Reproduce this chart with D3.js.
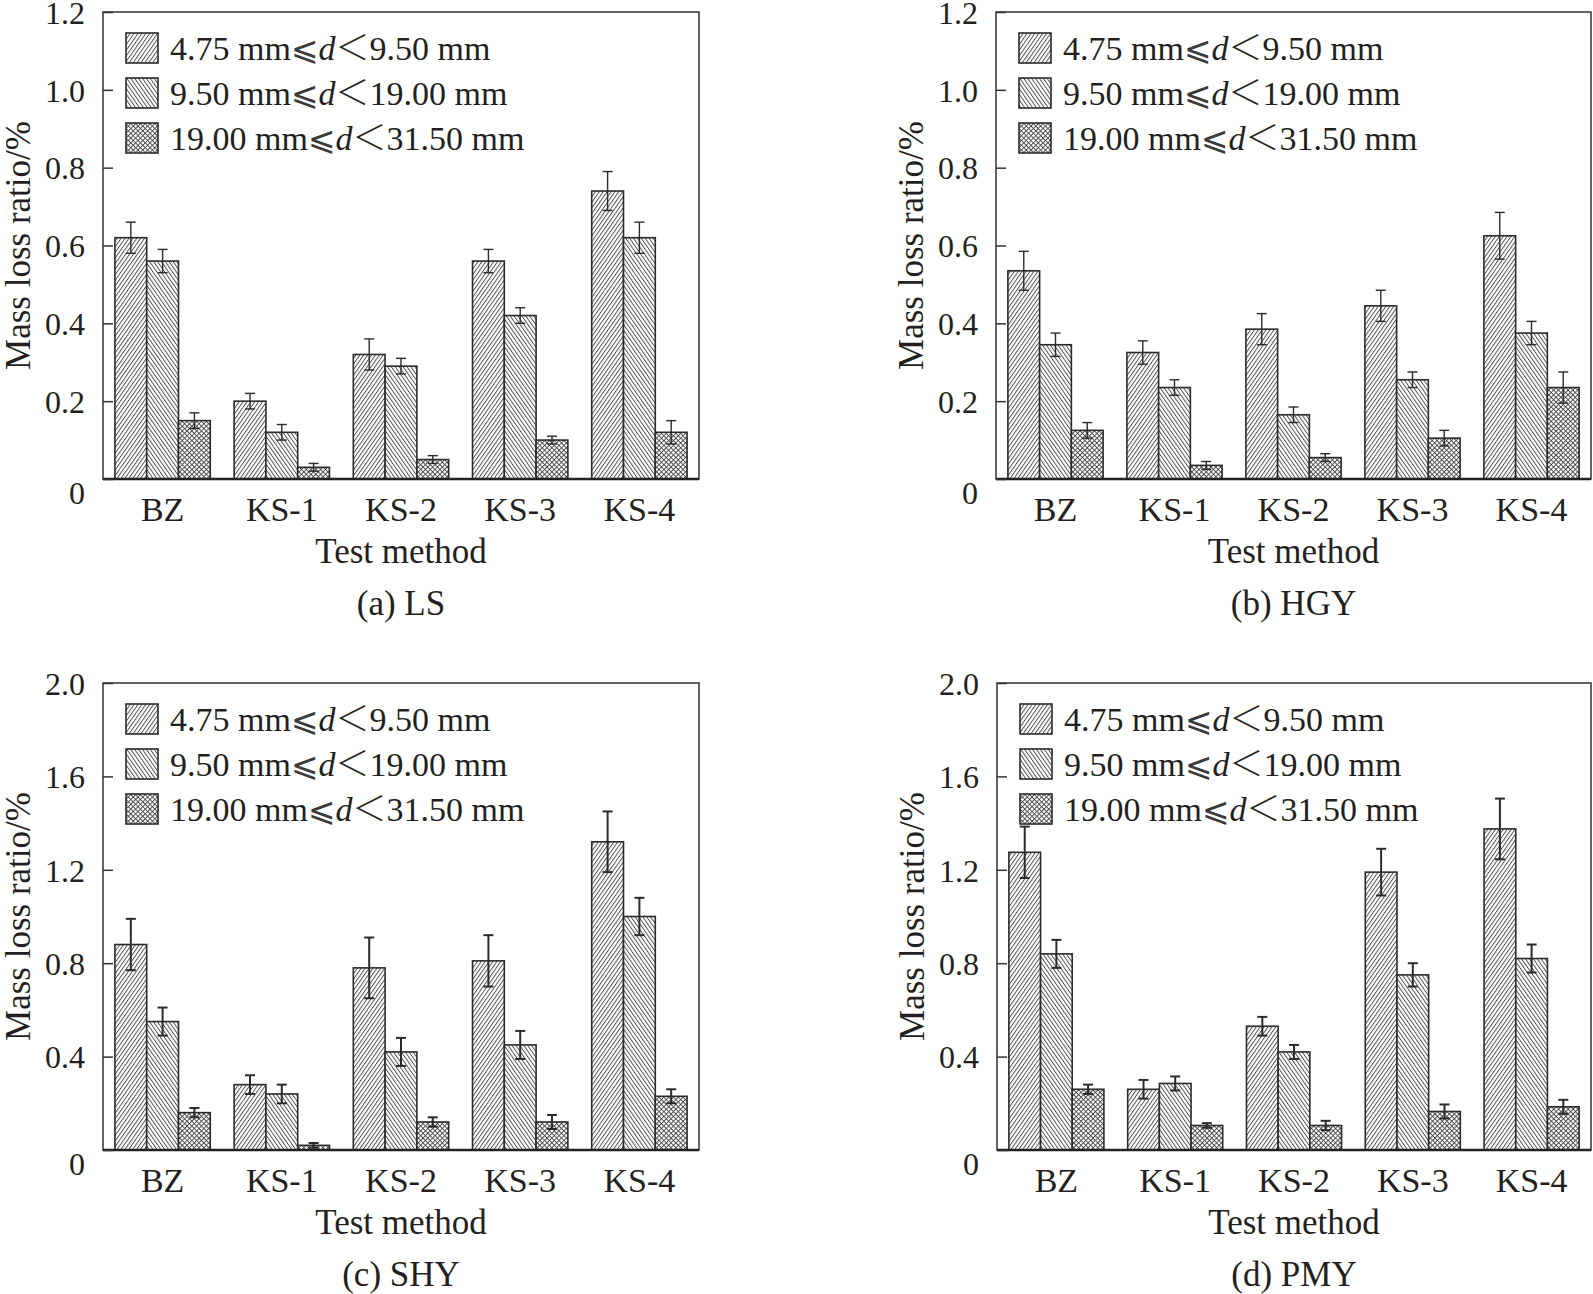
<!DOCTYPE html>
<html>
<head>
<meta charset="utf-8">
<script src="https://cdn.jsdelivr.net/npm/d3@7/dist/d3.min.js"></script>
<style>
  html, body { margin: 0; padding: 0; background: #fff; }
  svg { display: block; }
  text { font-family: "Liberation Serif", "Times New Roman", serif; fill: #231f20; }
</style>
</head>
<body>
<svg id="chart" width="1593" height="1294"></svg>
<script>
// ---------- data ----------
const categories = ["BZ", "KS-1", "KS-2", "KS-3", "KS-4"];
// each label: [before, relation sign, italic variable, comparison sign, after]
const seriesLabels = [
  ["4.75 mm", "\u2A7D", "d", "\uFF1C", "9.50 mm"],
  ["9.50 mm", "\u2A7D", "d", "\uFF1C", "19.00 mm"],
  ["19.00 mm", "\u2A7D", "d", "\uFF1C", "31.50 mm"]
];
const panelTitles = ["(a) LS", "(b) HGY", "(c) SHY", "(d) PMY"];
const xAxisTitle = "Test method";
const yAxisTitle = "Mass loss ratio/%";

const ticksTop = [0, 0.2, 0.4, 0.6, 0.8, 1.0, 1.2];
const ticksBottom = [0, 0.4, 0.8, 1.2, 1.6, 2.0];

// (a) LS
const lsSmall = [0.62, 0.20, 0.32, 0.56, 0.74];
const lsSmallErr = [0.04, 0.02, 0.04, 0.03, 0.05];
const lsMid = [0.56, 0.12, 0.29, 0.42, 0.62];
const lsMidErr = [0.03, 0.02, 0.02, 0.02, 0.04];
const lsLarge = [0.15, 0.03, 0.05, 0.10, 0.12];
const lsLargeErr = [0.02, 0.01, 0.01, 0.01, 0.03];

// (b) HGY
const hgySmall = [0.535, 0.325, 0.385, 0.445, 0.625];
const hgySmallErr = [0.05, 0.03, 0.04, 0.04, 0.06];
const hgyMid = [0.345, 0.235, 0.165, 0.255, 0.375];
const hgyMidErr = [0.03, 0.02, 0.02, 0.02, 0.03];
const hgyLarge = [0.125, 0.035, 0.055, 0.105, 0.235];
const hgyLargeErr = [0.02, 0.01, 0.01, 0.02, 0.04];

// (c) SHY
const shySmall = [0.88, 0.28, 0.78, 0.81, 1.32];
const shySmallErr = [0.11, 0.04, 0.13, 0.11, 0.13];
const shyMid = [0.55, 0.24, 0.42, 0.45, 1.00];
const shyMidErr = [0.06, 0.04, 0.06, 0.06, 0.08];
const shyLarge = [0.16, 0.02, 0.12, 0.12, 0.23];
const shyLargeErr = [0.02, 0.01, 0.02, 0.03, 0.03];

// (d) PMY
const pmySmall = [1.275, 0.26, 0.53, 1.19, 1.375];
const pmySmallErr = [0.11, 0.04, 0.04, 0.10, 0.13];
const pmyMid = [0.84, 0.285, 0.42, 0.75, 0.82];
const pmyMidErr = [0.06, 0.03, 0.03, 0.05, 0.06];
const pmyLarge = [0.26, 0.105, 0.105, 0.165, 0.185];
const pmyLargeErr = [0.02, 0.01, 0.02, 0.03, 0.03];

// ---------- layout ----------
const panels = [
  { title: panelTitles[0], left: 103, top: 12, width: 596, height: 467, yMax: 1.2, ticks: ticksTop,
    values: [lsSmall, lsMid, lsLarge], errs: [lsSmallErr, lsMidErr, lsLargeErr], errW: 1.4 },
  { title: panelTitles[1], left: 996, top: 12, width: 595, height: 467, yMax: 1.2, ticks: ticksTop,
    values: [hgySmall, hgyMid, hgyLarge], errs: [hgySmallErr, hgyMidErr, hgyLargeErr], errW: 1.4 },
  { title: panelTitles[2], left: 103, top: 683, width: 596, height: 467, yMax: 2.0, ticks: ticksBottom,
    values: [shySmall, shyMid, shyLarge], errs: [shySmallErr, shyMidErr, shyLargeErr], errW: 2 },
  { title: panelTitles[3], left: 997, top: 683, width: 594, height: 467, yMax: 2.0, ticks: ticksBottom,
    values: [pmySmall, pmyMid, pmyLarge], errs: [pmySmallErr, pmyMidErr, pmyLargeErr], errW: 2 }
];

const svg = d3.select("#chart");
svg.append("rect").attr("width", 1593).attr("height", 1294).attr("fill", "#fff");

// ---------- hatch patterns ----------
const defs = svg.append("defs");
function linePattern(id, angle) {
  const p = defs.append("pattern").attr("id", id)
    .attr("patternUnits", "userSpaceOnUse").attr("width", 3.2).attr("height", 10)
    .attr("patternTransform", `rotate(${angle})`);
  p.append("rect").attr("width", 3.2).attr("height", 10).attr("fill", "#fff");
  p.append("line").attr("x1", 0.5).attr("y1", 0).attr("x2", 0.5).attr("y2", 10)
    .attr("stroke", "#3a3a3a").attr("stroke-width", 0.85);
}
linePattern("hatchA", 35);
linePattern("hatchB", -35);
{
  const p = defs.append("pattern").attr("id", "hatchC")
    .attr("patternUnits", "userSpaceOnUse").attr("width", 3.4).attr("height", 3.4)
    .attr("patternTransform", "rotate(45)");
  p.append("rect").attr("width", 3.4).attr("height", 3.4).attr("fill", "#fff");
  p.append("line").attr("x1", 0.5).attr("y1", 0).attr("x2", 0.5).attr("y2", 3.4)
    .attr("stroke", "#3a3a3a").attr("stroke-width", 0.85);
  p.append("line").attr("x1", 0).attr("y1", 0.5).attr("x2", 3.4).attr("y2", 0.5)
    .attr("stroke", "#3a3a3a").attr("stroke-width", 0.85);
}
const fills = ["url(#hatchA)", "url(#hatchB)", "url(#hatchC)"];
const seriesKeys = ["s0", "s1", "s2"];

// ---------- draw panels ----------
panels.forEach(pn => {
  const g = svg.append("g").attr("transform", `translate(${pn.left},${pn.top})`);
  const x0 = d3.scaleBand().domain(categories).range([0, pn.width])
    .paddingInner(0.2).paddingOuter(0.1);
  const x1 = d3.scaleBand().domain(seriesKeys).range([0, x0.bandwidth()]);
  const y = d3.scaleLinear().domain([0, pn.yMax]).range([pn.height, 0]);

  // bars
  categories.forEach((c, ci) => {
    const grp = g.append("g").attr("transform", `translate(${x0(c)},0)`);
    seriesKeys.forEach((k, si) => {
      const v = pn.values[si][ci];
      grp.append("rect")
        .attr("x", x1(k)).attr("y", y(v))
        .attr("width", x1.bandwidth()).attr("height", y(0) - y(v))
        .attr("fill", fills[si]).attr("stroke", "#2b2b2b").attr("stroke-width", 1.6);
    });
    seriesKeys.forEach((k, si) => {
      const v = pn.values[si][ci];
      const e = pn.errs[si][ci];
      const cx = x1(k) + x1.bandwidth() / 2;
      const eg = grp.append("g").attr("stroke", "#2b2b2b").attr("stroke-width", pn.errW);
      eg.append("line").attr("x1", cx).attr("x2", cx).attr("y1", y(v + e)).attr("y2", y(v - e));
      eg.append("line").attr("x1", cx - 5).attr("x2", cx + 5).attr("y1", y(v + e)).attr("y2", y(v + e));
      eg.append("line").attr("x1", cx - 5).attr("x2", cx + 5).attr("y1", y(v - e)).attr("y2", y(v - e));
    });
  });

  // frame
  g.append("rect").attr("x", 0).attr("y", 0).attr("width", pn.width).attr("height", pn.height)
    .attr("fill", "none").attr("stroke", "#333").attr("stroke-width", 1.5);
  g.append("line").attr("x1", 0).attr("x2", pn.width).attr("y1", pn.height).attr("y2", pn.height)
    .attr("stroke", "#222").attr("stroke-width", 2.5);

  // y axis (inward ticks)
  const yAxis = d3.axisLeft(y).tickValues(pn.ticks).tickSizeInner(-10).tickSizeOuter(0)
    .tickFormat(d => d === 0 ? "0" : d3.format(".1f")(d));
  const ya = g.append("g").call(yAxis);
  ya.select(".domain").remove();
  ya.selectAll(".tick line").attr("stroke", "#333").attr("stroke-width", 1.5);
  ya.selectAll(".tick text")
    .attr("x", -18).attr("dy", "0.35em")
    .style("font-size", "32px").style("font-family", "'Liberation Serif', serif").attr("fill", "#231f20");
  ya.selectAll(".tick").filter(d => d === 0).select("text").attr("dy", "0.75em");

  // x axis labels
  const xAxis = d3.axisBottom(x0).tickSize(0).tickPadding(0);
  const xa = g.append("g").attr("transform", `translate(0,${pn.height})`).call(xAxis);
  xa.select(".domain").remove();
  xa.selectAll(".tick text").attr("y", 42).attr("dy", 0)
    .style("font-size", "34px").style("font-family", "'Liberation Serif', serif").attr("fill", "#231f20");

  // axis titles
  g.append("text").attr("x", pn.width / 2).attr("y", pn.height + 84)
    .attr("text-anchor", "middle").style("font-size", "35px").text(xAxisTitle);
  g.append("text")
    .attr("transform", `translate(-73,${pn.height / 2}) rotate(-90)`)
    .attr("text-anchor", "middle").style("font-size", "35px").text(yAxisTitle);
  g.append("text").attr("x", pn.width / 2).attr("y", pn.height + 136)
    .attr("text-anchor", "middle").style("font-size", "35px").text(pn.title);

  // legend
  const lg = g.append("g").attr("transform", "translate(23,21)");
  seriesLabels.forEach((lab, i) => {
    const row = lg.append("g").attr("transform", `translate(0,${i * 45})`);
    row.append("rect").attr("width", 32).attr("height", 30)
      .attr("fill", fills[i]).attr("stroke", "#2b2b2b").attr("stroke-width", 1.6);
    const t = row.append("text").attr("x", 44).attr("y", 27).style("font-size", "34px");
    t.append("tspan").text(lab[0]);
    t.append("tspan").style("font-family", "'DejaVu Serif', 'DejaVu Sans', serif")
      .style("font-size", "33px").attr("fill", "#3a3a3a").text(lab[1]);
    t.append("tspan").style("font-style", "italic").text(lab[2]);
    t.append("tspan").style("font-family", "'Noto Sans CJK SC', sans-serif")
      .style("font-weight", "300").text(lab[3]);
    t.append("tspan").text(lab[4]);
  });
});
</script>
</body>
</html>
